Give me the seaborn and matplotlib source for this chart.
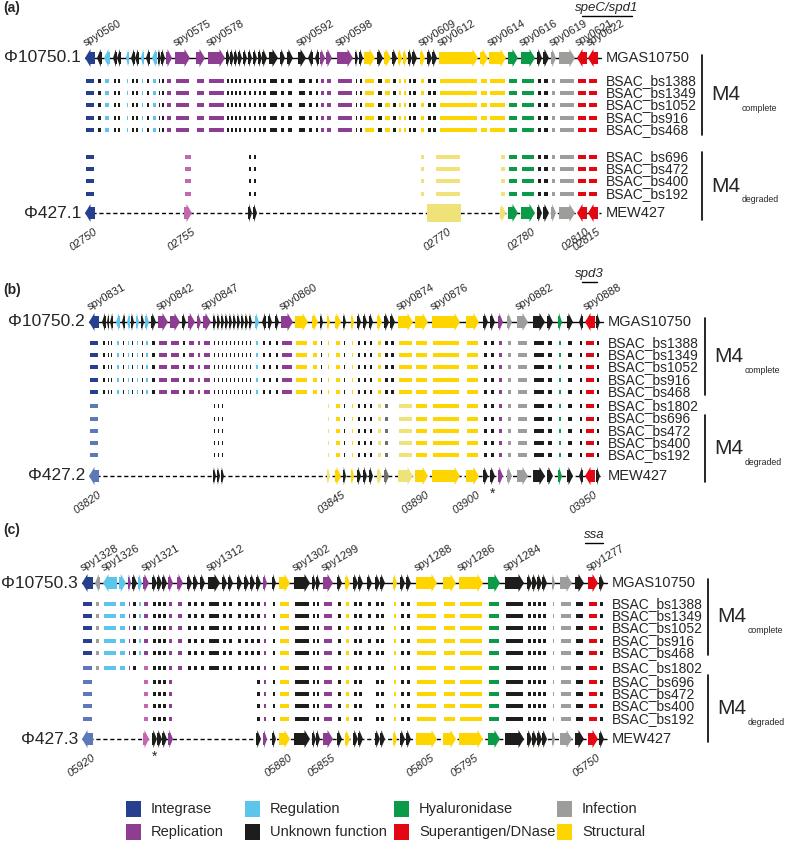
import matplotlib.pyplot as plt
import seaborn as sns
from matplotlib.patches import Polygon, Rectangle

# ---------------------------------------------------------------- data
# gene categories
CATEGORIES = ["I", "P", "R", "U", "H", "X", "N", "S"]
CATEGORY_NAMES = ["Integrase", "Replication", "Regulation", "Unknown function",
                  "Hyaluronidase", "Superantigen/DNase", "Infection", "Structural"]
CATEGORY_COLORS = ["#263f8f", "#8e3e92", "#5bc5ec", "#1d1d1b",
                   "#0a9a48", "#e30613", "#9d9d9c", "#ffd500"]
PALE_COLORS = {"I": "#5d79b9", "P": "#c467b0", "S": "#efe278", "U": "#707070"}

COMPLETE_STRAINS = ["BSAC_bs1388", "BSAC_bs1349", "BSAC_bs1052", "BSAC_bs916", "BSAC_bs468"]
DEGRADED_STRAINS = ["BSAC_bs696", "BSAC_bs472", "BSAC_bs400", "BSAC_bs192"]

# genes: (start kb, end kb, strand, category)
GENES_A = [
    (0.0, 1.0, -1, "I"), (1.2, 1.7, -1, "U"), (1.9, 2.5, -1, "R"), (2.8, 3.2, -1, "U"),
    (3.2, 3.6, -1, "U"), (4.1, 4.4, -1, "R"), (4.6, 5.0, -1, "U"), (5.0, 5.4, -1, "U"),
    (5.6, 5.9, -1, "R"), (6.1, 6.5, -1, "U"), (6.7, 7.2, -1, "R"), (7.3, 7.6, 1, "U"),
    (7.6, 8.0, 1, "U"), (8.1, 8.7, 1, "P"), (9.0, 10.5, 1, "P"), (11.1, 12.0, 1, "P"),
    (12.3, 14.0, 1, "P"), (14.1, 14.5, 1, "U"), (14.5, 14.9, 1, "U"), (14.9, 15.3, 1, "U"),
    (15.3, 15.7, 1, "U"), (15.8, 16.2, 1, "U"), (16.3, 16.7, 1, "U"), (16.8, 17.2, 1, "U"),
    (17.3, 17.7, 1, "U"), (17.7, 18.2, 1, "U"), (18.4, 19.3, 1, "U"), (19.5, 20.0, 1, "U"),
    (20.2, 20.8, 1, "U"), (21.3, 22.1, 1, "U"), (22.3, 22.8, -1, "U"), (23.0, 23.4, -1, "U"),
    (23.5, 24.0, 1, "P"), (24.1, 24.7, 1, "P"), (25.2, 26.8, 1, "P"), (27.0, 27.3, 1, "U"),
    (27.4, 27.8, 1, "U"), (27.9, 29.0, 1, "S"), (29.2, 29.8, 1, "U"), (29.9, 30.6, 1, "S"),
    (30.7, 31.2, 1, "U"), (31.3, 31.7, 1, "S"), (31.8, 32.2, 1, "S"), (32.3, 32.7, 1, "U"),
    (32.7, 33.2, 1, "U"), (33.5, 34.0, 1, "S"), (34.2, 34.7, 1, "U"), (34.7, 35.2, 1, "U"),
    (35.4, 39.3, 1, "S"), (39.5, 40.3, 1, "S"), (40.4, 42.1, 1, "S"), (42.3, 43.3, 1, "H"),
    (43.6, 45.0, 1, "H"), (45.2, 45.7, 1, "U"), (45.8, 46.4, 1, "U"), (46.6, 47.1, 1, "N"),
    (47.4, 49.0, 1, "N"), (49.2, 50.2, -1, "X"), (50.3, 51.3, -1, "X"),
]
SPY_A = {0: "spy0560", 14: "spy0575", 16: "spy0578", 29: "spy0592", 34: "spy0598",
         45: "spy0609", 48: "spy0612", 50: "spy0614", 52: "spy0616", 55: "spy0619",
         57: "spy0621", 58: "spy0622"}
DEG_A = [0, 22, 23, 45, 51, 52, 53, 54, 55, 56, 57, 58]
PHI_A = [0, 22, 23, 51, 52, 53, 54, 55, 56, 57, 58]
PALE_A = [45]
# remnant gene fragments in the degraded prophage (drawn pale, strand 0 = fragment box)
FRAG_A = [(9.9, 10.7, 1, "P"), (34.2, 37.6, 0, "S"), (41.5, 42.1, 1, "S")]
NUM_A = [("02750", 0), ("02755", "f0"), ("02770", "f1"), ("02780", 52), ("02810", 57), ("02815", 58)]

GENES_B = [
    (0.4, 1.4, -1, "I"), (1.7, 2.1, -1, "U"), (2.2, 2.4, -1, "U"), (2.5, 2.8, -1, "U"),
    (3.1, 3.5, -1, "R"), (3.7, 4.0, -1, "U"), (4.2, 4.5, -1, "R"), (4.6, 4.9, 1, "U"),
    (5.1, 5.4, 1, "R"), (5.6, 5.9, 1, "U"), (6.0, 6.4, 1, "R"), (6.6, 7.1, 1, "U"),
    (7.3, 8.3, 1, "P"), (8.5, 9.5, 1, "P"), (9.7, 10.1, 1, "U"), (10.3, 11.0, 1, "P"),
    (11.2, 11.6, 1, "P"), (11.8, 12.6, 1, "P"), (12.8, 13.1, 1, "U"), (13.2, 13.5, 1, "U"),
    (13.6, 13.9, 1, "U"), (14.0, 14.3, 1, "U"), (14.4, 14.7, 1, "U"), (14.8, 15.1, 1, "U"),
    (15.2, 15.5, 1, "U"), (15.6, 15.9, 1, "U"), (16.0, 16.3, 1, "U"), (16.4, 16.7, 1, "U"),
    (17.0, 17.4, 1, "R"), (17.7, 18.1, -1, "U"), (18.3, 18.7, 1, "U"), (19.0, 19.4, 1, "U"),
    (19.6, 20.8, 1, "P"), (21.0, 22.3, 1, "S"), (22.7, 23.3, 1, "S"), (23.5, 23.8, 1, "U"),
    (24.2, 24.5, 1, "S"), (25.0, 25.6, 1, "S"), (25.8, 26.1, 1, "U"), (26.6, 26.9, 1, "S"),
    (27.2, 27.6, 1, "U"), (27.8, 28.2, 1, "U"), (28.4, 28.8, 1, "U"), (29.2, 29.7, 1, "S"),
    (29.9, 30.4, 1, "U"), (30.5, 31.0, 1, "U"), (31.3, 32.8, 1, "S"), (33.0, 34.3, 1, "S"),
    (34.7, 37.5, 1, "S"), (38.1, 39.4, 1, "S"), (39.8, 40.3, 1, "U"), (40.5, 41.0, 1, "U"),
    (41.3, 41.8, 1, "P"), (42.2, 42.7, 1, "N"), (43.2, 44.3, 1, "N"), (44.8, 46.0, 1, "U"),
    (46.2, 46.8, 1, "U"), (47.3, 47.7, 1, "H"), (48.2, 48.8, 1, "U"), (49.4, 49.8, -1, "U"),
    (50.0, 51.0, -1, "X"), (51.1, 51.5, 1, "U"),
]
SPY_B = {0: "spy0831", 12: "spy0842", 17: "spy0847", 32: "spy0860", 46: "spy0874",
         48: "spy0876", 54: "spy0882", 60: "spy0888"}
DEG_B = [0, 18, 19, 20, 36, 37, 38, 39, 40, 41, 42, 43, 44, 46, 47, 48, 49, 50, 51, 52,
         53, 54, 55, 56, 57, 58, 59, 60, 61]
BS1802_B = DEG_B
PHI_B = DEG_B
PALE_B = [0, 36, 43, 44, 46]
FRAG_B = []
NUM_B = [("03820", 0), ("03845", 37), ("03890", 47), ("03900", 49), ("03950", 60)]
STAR_B = 51

GENES_C = [
    (-0.3, 0.8, -1, "I"), (1.0, 1.5, -1, "N"), (1.8, 3.2, -1, "R"), (3.4, 4.1, 1, "R"),
    (4.3, 4.6, 1, "P"), (4.7, 5.2, 1, "U"), (5.3, 5.7, 1, "R"), (5.8, 6.4, 1, "P"),
    (6.7, 7.2, 1, "U"), (7.2, 7.7, 1, "U"), (7.7, 8.2, 1, "U"), (8.3, 8.8, 1, "P"),
    (9.2, 9.8, 1, "P"), (10.2, 10.7, 1, "U"), (10.8, 11.3, 1, "U"), (11.5, 12.0, 1, "U"),
    (12.3, 13.5, 1, "U"), (13.7, 14.2, 1, "U"), (14.3, 14.8, 1, "U"), (15.2, 15.7, 1, "U"),
    (15.9, 16.4, 1, "U"), (16.5, 17.0, 1, "U"), (17.1, 17.6, 1, "U"), (17.8, 18.2, 1, "P"),
    (18.7, 19.1, 1, "U"), (19.4, 20.5, 1, "S"), (20.9, 22.5, 1, "U"), (22.7, 23.1, 1, "U"),
    (23.1, 23.5, 1, "U"), (23.8, 24.8, 1, "P"), (25.2, 25.7, 1, "U"), (26.0, 26.5, 1, "S"),
    (26.8, 27.3, 1, "U"), (27.3, 27.8, 1, "U"), (28.2, 28.7, 1, "U"), (29.0, 29.5, 1, "U"),
    (29.5, 30.0, 1, "U"), (30.8, 31.2, 1, "S"), (31.5, 32.0, 1, "U"), (32.1, 32.6, 1, "U"),
    (33.1, 35.2, 1, "S"), (35.8, 37.1, 1, "S"), (37.4, 39.8, 1, "S"), (40.3, 41.5, 1, "H"),
    (42.0, 43.9, 1, "U"), (44.2, 44.7, 1, "U"), (44.7, 45.2, 1, "U"), (45.2, 45.7, 1, "U"),
    (45.7, 46.2, 1, "U"), (46.7, 47.0, 1, "N"), (47.5, 48.7, 1, "N"), (49.0, 49.9, 1, "U"),
    (50.3, 51.3, 1, "X"), (51.4, 51.9, 1, "U"),
]
SPY_C = {0: "spy1328", 2: "spy1326", 7: "spy1321", 16: "spy1312", 26: "spy1302",
         29: "spy1299", 40: "spy1288", 42: "spy1286", 44: "spy1284", 52: "spy1277"}
DEG_C = [0, 7, 8, 9, 10, 11, 22, 23, 24, 25, 26, 27, 28, 29, 30, 31, 32, 33, 35, 36, 37,
         38, 39, 40, 41, 42, 43, 44, 45, 46, 47, 48, 49, 50, 51, 52, 53]
BS1802_C = [0, 1, 2, 3, 4, 5, 7, 8, 9, 10, 11, 12, 13, 14, 15, 16, 17, 18, 19, 20, 21, 22,
            23, 24, 25, 26, 27, 28, 29, 30, 31, 32, 33, 34, 35, 36, 37, 38, 39, 40, 41, 42,
            43, 44, 45, 46, 47, 48, 49, 50, 51, 52, 53]
PHI_C = DEG_C
PALE_C = [0, 7]
FRAG_C = []
NUM_C = [("05920", 0), ("05880", 25), ("05855", 29), ("05805", 40), ("05795", 42), ("05750", 52)]
STAR_C = 8

# ---------------------------------------------------------------- style
sns.set_theme(style="white")
plt.rcParams["font.family"] = ["Liberation Sans", "DejaVu Sans"]
palette = dict(zip(CATEGORIES, sns.color_palette(CATEGORY_COLORS)))

fig = plt.figure(figsize=(7.87, 8.43), dpi=100)
ax = fig.add_axes([0, 0, 1, 1])
ax.set_xlim(-8.5, 70.2)   # 10 px per kb
ax.set_ylim(843, 0)       # pixel rows
ax.axis("off")

ROW = 12.2


def gene_shape(s, e, strand, y, color, body=6.0, head=9.0):
    L = e - s
    hl = min(0.55, 0.75 * L)
    if strand == 0:
        pts = [(s, y - head), (e, y - head), (e, y + head), (s, y + head)]
    elif strand > 0:
        pts = [(s, y - body), (e - hl, y - body), (e - hl, y - head), (e, y),
               (e - hl, y + head), (e - hl, y + body), (s, y + body)]
    else:
        pts = [(e, y - body), (s + hl, y - body), (s + hl, y - head), (s, y),
               (s + hl, y + head), (s + hl, y + body), (e, y + body)]
    ax.add_patch(Polygon(pts, closed=True, facecolor=color, edgecolor="none", zorder=3))


def dash(s, e, y, color):
    ax.add_patch(Rectangle((s + 0.1, y - 2), max(e - s - 0.2, 0.08), 4,
                           facecolor=color, edgecolor="none", zorder=3))


def col(cat, pale):
    return PALE_COLORS.get(cat, palette[cat]) if pale else palette[cat]


def m4_label(x, y, sub):
    t = ax.text(x, y, "M4", fontsize=15, va="center", ha="left")
    ax.annotate(sub, xy=(1, 0), xycoords=t, xytext=(1, -3), textcoords="offset points",
                fontsize=6.3, va="center", ha="left")


def panel(tag, tag_y, name, phi_name, genes, spy, deg, bs1802, phi, pale, frag, nums,
          star, main_y, comp_y0, b1802_y, deg_y0, phi_y, bars, bar_gap, mark):
    x0 = genes[0][0]
    x1 = genes[-1][1]
    lab_x = x1 + 0.8
    ax.text(-8.2, tag_y, tag, fontsize=10, fontweight="bold", va="center")

    # reference prophage
    ax.plot([x0, x1 + 0.3], [main_y, main_y], color="black", lw=1.0, zorder=1)
    for i, (s, e, st, c) in enumerate(genes):
        gene_shape(s, e, st, main_y, palette[c])
        if i in spy:
            ax.text(s + 0.2, main_y - 10, spy[i], fontsize=8, rotation=30,
                    rotation_mode="anchor", ha="left", va="bottom")
    ax.text(x0 - 0.4, main_y, name, fontsize=12.5, ha="right", va="center")
    ax.text(lab_x, main_y, "MGAS10750", fontsize=10.5, va="center")

    # M4 complete strains
    for k, strain in enumerate(COMPLETE_STRAINS):
        y = comp_y0 + k * ROW
        for s, e, st, c in genes:
            dash(s, e, y, palette[c])
        ax.text(lab_x, y, strain, fontsize=10, va="center")

    if bs1802 is not None:
        for i in bs1802:
            s, e, st, c = genes[i]
            dash(s, e, b1802_y, col(c, i in pale))
        ax.text(lab_x, b1802_y, "BSAC_bs1802", fontsize=10, va="center")

    # M4 degraded strains
    for k, strain in enumerate(DEGRADED_STRAINS):
        y = deg_y0 + k * ROW
        for i in deg:
            s, e, st, c = genes[i]
            dash(s, e, y, col(c, i in pale))
        for s, e, st, c in frag:
            dash(s + 0.8 if st == 0 else s, e, y, col(c, True))
        ax.text(lab_x, y, strain, fontsize=10, va="center")

    # degraded prophage in MEW427
    ax.plot([x0, x1 + 0.3], [phi_y, phi_y], color="black", lw=1.0, ls=(0, (3, 2)), zorder=1)
    for i in phi:
        s, e, st, c = genes[i]
        gene_shape(s, e, st, phi_y, col(c, i in pale))
    for s, e, st, c in frag:
        gene_shape(s, e, st, phi_y, col(c, True))
    ax.text(x0 - 0.4, phi_y, phi_name, fontsize=12.5, ha="right", va="center")
    ax.text(lab_x, phi_y, "MEW427", fontsize=10.5, va="center")
    for txt, ref in nums:
        s, e = (frag[int(ref[1])][:2] if isinstance(ref, str) else genes[ref][:2])
        ax.text((s + e) / 2 + 0.4, phi_y + 14, txt, fontsize=8, style="italic", rotation=35,
                rotation_mode="anchor", ha="right", va="top")
    if star is not None:
        s, e = genes[star][:2]
        ax.text((s + e) / 2, phi_y + 11, "*", fontsize=10, ha="center", va="top")

    # group brackets
    bx = lab_x + bar_gap
    (c0, c1), (d0, d1) = bars
    ax.plot([bx, bx], [c0, c1], color="black", lw=1.2)
    ax.plot([bx, bx], [d0, d1], color="black", lw=1.2)
    m4_label(bx + 0.9, (c0 + c1) / 2, "complete")
    m4_label(bx + 0.9, (d0 + d1) / 2, "degraded")

    # toxin gene mark
    mtxt, mx0, mx1, my = mark
    ax.plot([mx0, mx1], [my, my], color="black", lw=1.0)
    ax.text((mx0 + mx1) / 2, my - 2.5, mtxt, fontsize=9.5, style="italic", ha="center", va="bottom")


panel("(a)", 8, "Φ10750.1", "Φ427.1", GENES_A, SPY_A, DEG_A, None, PHI_A, PALE_A, FRAG_A,
      NUM_A, None, 58, 81, None, 157, 213, ((55, 135), (152, 220)), 9.6,
      ("speC/spd1", 49.7, 54.7, 16))
panel("(b)", 290, "Φ10750.2", "Φ427.2", GENES_B, SPY_B, DEG_B, BS1802_B, PHI_B, PALE_B, FRAG_B,
      NUM_B, STAR_B, 322, 343, 406, 418.5, 476, ((318, 395), (415, 482)), 9.7,
      ("spd3", 49.7, 51.2, 282))
panel("(c)", 530, "Φ10750.3", "Φ427.3", GENES_C, SPY_C, DEG_C, BS1802_C, PHI_C, PALE_C, FRAG_C,
      NUM_C, STAR_C, 583, 604, 668, 682, 739, ((579, 655), (675, 742)), 9.6,
      ("ssa", 50.0, 51.8, 543))

# legend (two rows, four columns)
leg_x = [4.1, 16.0, 30.9, 47.2]
leg_y = [809, 832]
for j, (cat, label) in enumerate(zip(CATEGORIES, CATEGORY_NAMES)):
    cx = leg_x[j // 2]
    cy = leg_y[j % 2]
    ax.add_patch(Rectangle((cx, cy - 8), 1.5, 16, facecolor=palette[cat], edgecolor="none"))
    ax.text(cx + 2.5, cy, label, fontsize=10.5, va="center")

fig.savefig("out.png", dpi=100)
